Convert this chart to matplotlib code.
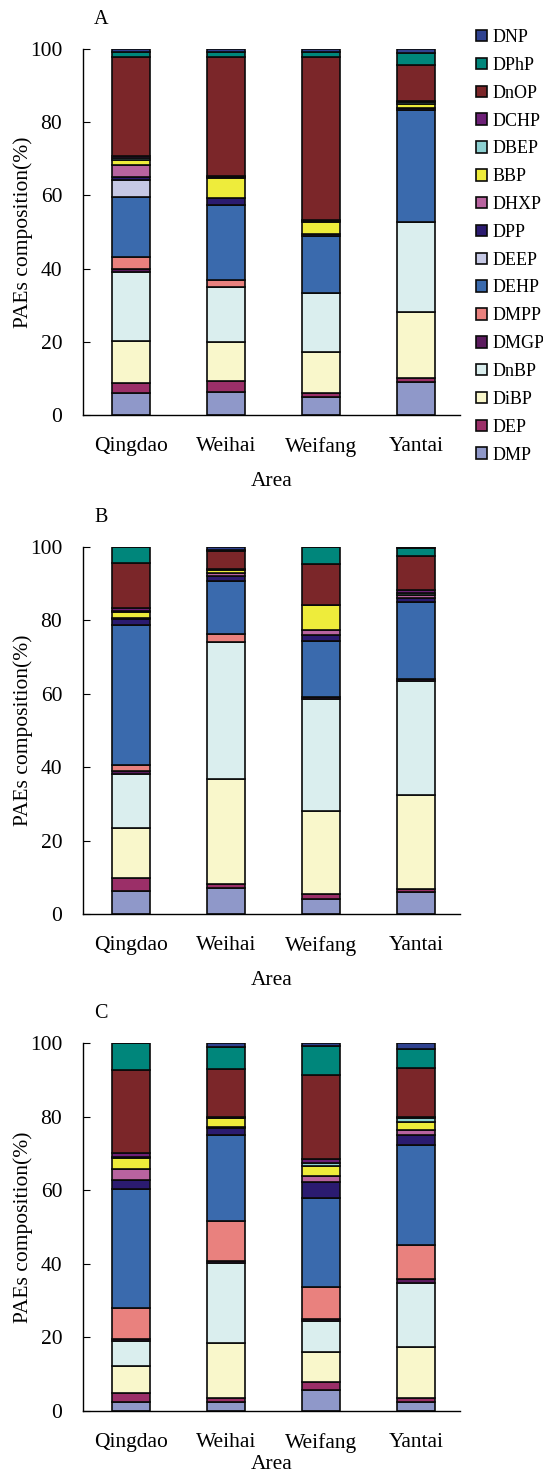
import numpy as np
import matplotlib
matplotlib.use('Agg')
import matplotlib.pyplot as plt

plt.rcParams['font.family'] = ['Liberation Serif', 'DejaVu Serif']

areas = ['Qingdao', 'Weihai', 'Weifang', 'Yantai']
compounds = ['DMP', 'DEP', 'DiBP', 'DnBP', 'DMGP', 'DMPP', 'DEHP', 'DEEP',
             'DPP', 'DHXP', 'BBP', 'DBEP', 'DCHP', 'DnOP', 'DPhP', 'DNP']
colors = ['#8f98c9', '#9b2f68', '#f9f7cb', '#daeeee', '#5b1b5e', '#e9817e',
          '#3a6aad', '#c6c9e5', '#2b1b70', '#b8639f', '#eeec3b', '#8dd0d1',
          '#6d2077', '#7b2629', '#00867b', '#2f4290']

# composition (%) per compound, columns = Qingdao, Weihai, Weifang, Yantai
comp_A = [
    [5.9, 6.2, 5.0, 9.1],     # DMP
    [2.9, 3.1, 1.1, 0.9],     # DEP
    [11.4, 10.6, 11.0, 18.2], # DiBP
    [19.0, 15.2, 16.1, 24.4], # DnBP
    [0.6, 0.0, 0.0, 0.0],     # DMGP
    [3.5, 1.8, 0.0, 0.0],     # DMPP
    [16.2, 20.5, 15.7, 30.6], # DEHP
    [4.7, 0.0, 0.0, 0.0],     # DEEP
    [0.7, 1.8, 0.5, 0.6],     # DPP
    [3.4, 0.0, 0.0, 0.0],     # DHXP
    [1.4, 5.6, 3.2, 1.2],     # BBP
    [0.4, 0.3, 0.3, 0.4],     # DBEP
    [0.8, 0.3, 0.3, 0.4],     # DCHP
    [27.0, 32.5, 44.7, 9.8],  # DnOP
    [1.2, 1.2, 1.2, 3.2],     # DPhP
    [0.9, 0.9, 0.9, 1.2],     # DNP
]
comp_B = [
    [6.2, 7.1, 4.0, 5.9],
    [3.7, 1.1, 1.5, 1.0],
    [13.6, 28.7, 22.7, 25.4],
    [14.7, 37.3, 30.3, 31.3],
    [0.7, 0.0, 0.5, 0.5],
    [1.8, 2.1, 0.0, 0.0],
    [38.0, 14.4, 15.5, 20.9],
    [0.0, 0.0, 0.0, 0.0],
    [1.8, 1.4, 1.5, 1.2],
    [0.2, 0.9, 1.4, 0.6],
    [1.6, 0.7, 6.8, 0.2],
    [0.2, 0.2, 0.0, 0.4],
    [1.0, 0.2, 0.0, 0.8],
    [12.2, 4.7, 11.1, 9.3],
    [4.3, 0.3, 4.7, 2.3],
    [0.0, 0.9, 0.0, 0.2],
]
comp_C = [
    [2.5, 2.5, 5.6, 2.5],
    [2.4, 0.9, 2.4, 0.9],
    [7.4, 15.2, 8.1, 14.1],
    [6.8, 21.5, 8.3, 17.4],
    [0.6, 0.6, 0.5, 0.9],
    [8.4, 10.9, 8.8, 9.3],
    [32.1, 23.3, 24.3, 27.1],
    [0.0, 0.0, 0.0, 0.0],
    [2.7, 1.9, 4.3, 2.9],
    [2.9, 0.3, 1.6, 1.2],
    [3.0, 2.4, 2.7, 2.3],
    [0.3, 0.2, 0.8, 0.9],
    [0.9, 0.3, 1.2, 0.4],
    [22.6, 12.9, 22.6, 13.4],
    [7.4, 6.1, 8.1, 5.0],
    [0.0, 1.0, 0.7, 1.7],
]

fig = plt.figure(figsize=(5.43, 14.81), dpi=100)
W, H = 543.0, 1481.0
# letter, data, axes top px, axes bottom px, xlabel offset px
panels = [('A', comp_A, 49, 415, 57), ('B', comp_B, 547, 914, 57),
          ('C', comp_C, 1043, 1411, 44)]
x = np.arange(len(areas))

for letter, data, top, bot, xoff in panels:
    ax = fig.add_axes([83 / W, 1 - bot / H, 377 / W, (bot - top) / H])
    bottom = np.zeros(len(areas))
    bars = []
    for name, vals, c in zip(compounds, data, colors):
        vals = np.array(vals)
        b = ax.bar(x, vals, 0.4, bottom=bottom, color=c, edgecolor='#0a0a0a',
                   linewidth=1.2, label=name)
        bars.append(b)
        bottom += vals
    ax.set_xlim(-0.505, 3.463)
    ax.set_ylim(0, 100)
    ax.set_yticks(np.arange(0, 101, 20))
    ax.set_xticks(x)
    ax.set_xticklabels(areas)
    ax.tick_params(axis='x', length=0, labelsize=15.5, pad=16)
    ax.tick_params(axis='y', direction='in', length=5, labelsize=15.5, pad=15)
    for s in ['top', 'right']:
        ax.spines[s].set_visible(False)
    ax.spines['left'].set_linewidth(1.0)
    ax.spines['bottom'].set_linewidth(1.0)
    ax.set_xlabel('Area', fontsize=15.5, va='top')
    ax.xaxis.set_label_coords(0.5, -xoff / (bot - top))
    ax.set_ylabel('PAEs composition(%)', fontsize=15.5, va='center')
    ax.yaxis.set_label_coords(-60 / 377, 0.5)
    fig.text(94 / W, 1 - (top - 29) / H, letter, fontsize=14.5, va='center', ha='left')
    if letter == 'A':
        fig.legend(bars[::-1], compounds[::-1], loc='upper left',
                   bbox_to_anchor=(476 / W, 1 - 29 / H), frameon=False,
                   fontsize=13, handlelength=0.6, handleheight=0.6,
                   handletextpad=0.3, labelspacing=0.6, borderpad=0,
                   borderaxespad=0)

fig.savefig('out.png', dpi=100)
